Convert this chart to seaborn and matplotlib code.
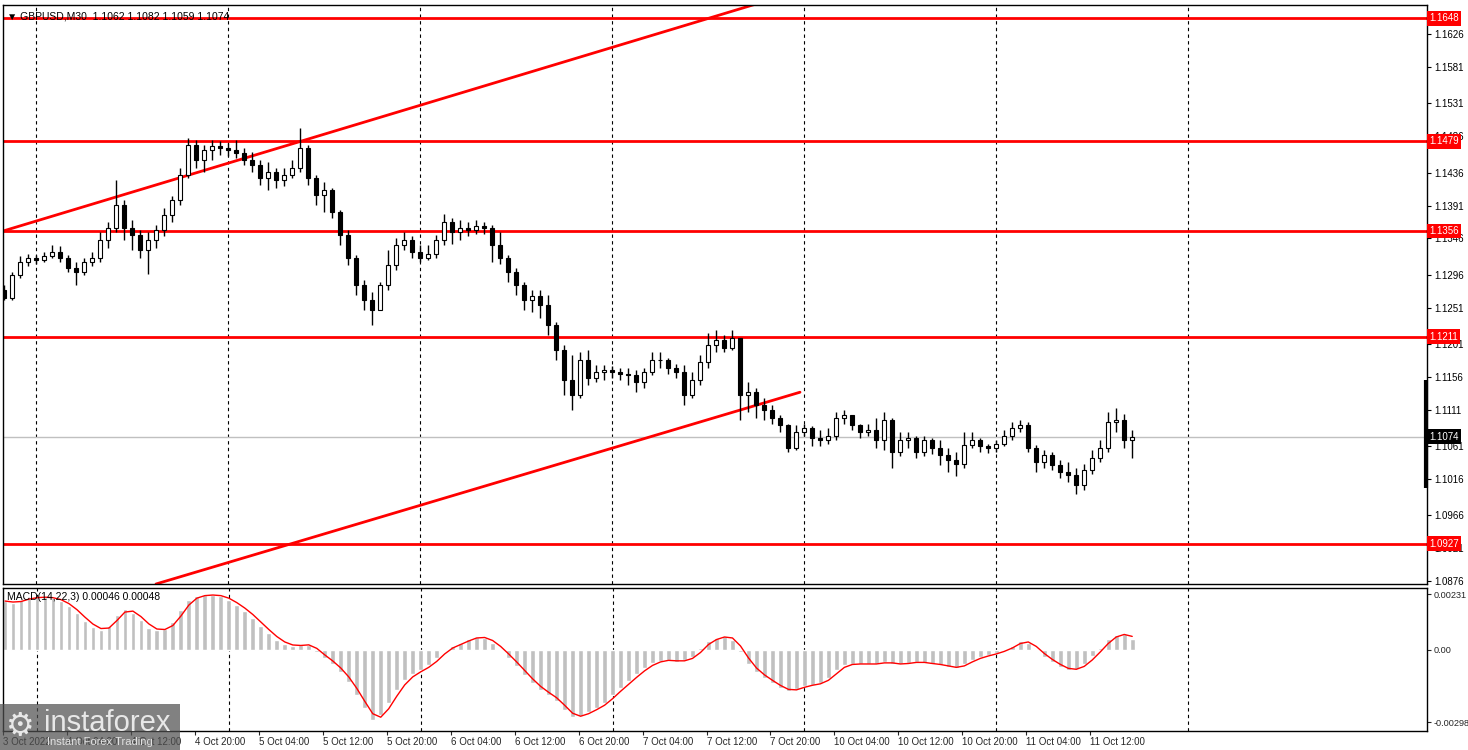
import numpy as np
import pandas as pd
import matplotlib
matplotlib.use("Agg")
import matplotlib.pyplot as plt
import matplotlib.transforms as mtransforms
from matplotlib.patches import Rectangle
import seaborn as sns

# --- data (one candle per hour of chart) ---
first_open = 1.1275
closes = [1.1264, 1.1296, 1.1314, 1.1319, 1.1316, 1.1322, 1.1327, 1.1319,
          1.1305, 1.1300, 1.1314, 1.1319, 1.1344, 1.1360, 1.1392, 1.1360,
          1.1351, 1.1330, 1.1344, 1.1357, 1.1378, 1.1399, 1.1433, 1.1474,
          1.1453, 1.1467, 1.1473, 1.1470, 1.1467, 1.1463, 1.1453, 1.1447,
          1.1429, 1.1437, 1.1426, 1.1433, 1.1442, 1.1470, 1.1429, 1.1405,
          1.1412, 1.1382, 1.1351, 1.1319, 1.1282, 1.1261, 1.1248, 1.1282,
          1.1309, 1.1337, 1.1344, 1.1327, 1.1319, 1.1325, 1.1344, 1.1368,
          1.1355, 1.1360, 1.1357, 1.1363, 1.1360, 1.1337, 1.1319, 1.1300,
          1.1282, 1.1261, 1.1267, 1.1255, 1.1227, 1.1193, 1.1152, 1.1131,
          1.1179, 1.1155, 1.1163, 1.1166, 1.1163, 1.1160, 1.1159, 1.1149,
          1.1163, 1.1179, 1.1179, 1.1168, 1.1163, 1.1131, 1.1152, 1.1177,
          1.1200, 1.1207, 1.1196, 1.1209, 1.1131, 1.1135, 1.1117, 1.1111,
          1.1100, 1.1090, 1.1059, 1.1081, 1.1086, 1.1072, 1.1070, 1.1075,
          1.1100, 1.1104, 1.1090, 1.1081, 1.1083, 1.1070, 1.1097, 1.1053,
          1.1070, 1.1072, 1.1053, 1.1070, 1.1059, 1.1049, 1.1042, 1.1037,
          1.1063, 1.1070, 1.1061, 1.1059, 1.1064, 1.1075, 1.1086, 1.1090,
          1.1059, 1.1039, 1.1049, 1.1035, 1.1026, 1.1022, 1.1008, 1.1028,
          1.1045, 1.1059, 1.1094, 1.1097, 1.1070, 1.1074]
highs = [1.1282, 1.1300, 1.1322, 1.1325, 1.1323, 1.1327, 1.1337, 1.1335,
         1.1323, 1.1314, 1.1319, 1.1327, 1.1355, 1.1368, 1.1426, 1.1399,
         1.1371, 1.1357, 1.1355, 1.1364, 1.1388, 1.1404, 1.1442, 1.1484,
         1.1481, 1.1474, 1.1481, 1.1479, 1.1477, 1.1481, 1.1470, 1.1464,
         1.1453, 1.1451, 1.1442, 1.1442, 1.1453, 1.1497, 1.1474, 1.1433,
         1.1423, 1.1415, 1.1385, 1.1357, 1.1323, 1.1289, 1.1273, 1.1286,
         1.1330, 1.1347, 1.1355, 1.1349, 1.1337, 1.1337, 1.1351, 1.1379,
         1.1374, 1.1371, 1.1368, 1.1371, 1.1368, 1.1364, 1.1355, 1.1323,
         1.1305, 1.1286, 1.1275, 1.1275, 1.1268, 1.1231, 1.1200, 1.1186,
         1.1190, 1.1193, 1.1172, 1.1172, 1.1171, 1.1168, 1.1168, 1.1166,
         1.1168, 1.1190, 1.1190, 1.1182, 1.1174, 1.1172, 1.1163, 1.1186,
         1.1216, 1.1220, 1.1213, 1.1220, 1.1209, 1.1149, 1.1141, 1.1127,
         1.1117, 1.1104, 1.1092, 1.1090, 1.1092, 1.1089, 1.1083, 1.1086,
         1.1108, 1.1111, 1.1100, 1.1092, 1.1092, 1.1100, 1.1108, 1.1100,
         1.1081, 1.1081, 1.1075, 1.1075, 1.1072, 1.1070, 1.1059, 1.1053,
         1.1081, 1.1081, 1.1072, 1.1064, 1.1070, 1.1083, 1.1094, 1.1097,
         1.1094, 1.1063, 1.1056, 1.1053, 1.1042, 1.1039, 1.1031, 1.1037,
         1.1056, 1.1070, 1.1108, 1.1113, 1.1105, 1.1083]
lows = [1.1261, 1.1261, 1.1292, 1.1308, 1.1311, 1.1314, 1.1319, 1.1314,
        1.1300, 1.1282, 1.1296, 1.1308, 1.1314, 1.1333, 1.1355, 1.1344,
        1.1330, 1.1319, 1.1297, 1.1333, 1.1349, 1.1368, 1.1392, 1.1429,
        1.1442, 1.1437, 1.1453, 1.1460, 1.1459, 1.1456, 1.1447, 1.1437,
        1.1419, 1.1412, 1.1415, 1.1418, 1.1429, 1.1437, 1.1419, 1.1392,
        1.1382, 1.1374, 1.1337, 1.1309, 1.1268, 1.1248, 1.1227, 1.1255,
        1.1275, 1.1303, 1.1330, 1.1319, 1.1314, 1.1316, 1.1319, 1.1337,
        1.1338, 1.1344, 1.1349, 1.1352, 1.1352, 1.1314, 1.1311, 1.1286,
        1.1268, 1.1248, 1.1245, 1.1237, 1.1213, 1.1179, 1.1131, 1.1111,
        1.1127, 1.1145, 1.1149, 1.1152, 1.1155, 1.1152, 1.1145, 1.1135,
        1.1141, 1.1158, 1.1168, 1.1160, 1.1155, 1.1117, 1.1127, 1.1145,
        1.1168, 1.1190, 1.1190, 1.1193, 1.1097, 1.1108, 1.1100, 1.1097,
        1.1092, 1.1081, 1.1053, 1.1056, 1.1075, 1.1061, 1.1061, 1.1064,
        1.1070, 1.1092, 1.1083, 1.1072, 1.1075, 1.1059, 1.1056, 1.1031,
        1.1048, 1.1059, 1.1045, 1.1048, 1.1050, 1.1035, 1.1026, 1.1020,
        1.1031, 1.1059, 1.1053, 1.1052, 1.1053, 1.1061, 1.1070, 1.1081,
        1.1053, 1.1026, 1.1031, 1.1028, 1.1018, 1.1012, 1.0996, 1.1001,
        1.1023, 1.1039, 1.1053, 1.1081, 1.1059, 1.1045]
macd = [0.00202, 0.00194, 0.00206, 0.00214, 0.00218, 0.00218, 0.00214, 0.00202,
        0.00181, 0.00152, 0.00119, 0.00095, 0.00082, 0.00099, 0.00144, 0.00169,
        0.00152, 0.00124, 0.00091, 0.00082, 0.00087, 0.00115, 0.00165, 0.00206,
        0.00222, 0.00227, 0.00227, 0.00222, 0.00206, 0.00185, 0.00161, 0.00132,
        0.00099, 0.00070, 0.00041, 0.00025, 0.00016, 0.00021, 0.00021, -0.00008,
        -0.00033, -0.00058, -0.00091, -0.00132, -0.00185, -0.00239, -0.00288, -0.00268,
        -0.00218, -0.00165, -0.00124, -0.00099, -0.00082, -0.00062, -0.00033, 0.00000,
        0.00016, 0.00029, 0.00045, 0.00054, 0.00049, 0.00029, 0.00000, -0.00033,
        -0.00066, -0.00103, -0.00136, -0.00165, -0.00185, -0.00210, -0.00247, -0.00276,
        -0.00272, -0.00255, -0.00239, -0.00218, -0.00185, -0.00157, -0.00128, -0.00099,
        -0.00074, -0.00054, -0.00045, -0.00041, -0.00049, -0.00041, -0.00029, 0.00008,
        0.00037, 0.00049, 0.00058, 0.00041, -0.00008, -0.00058, -0.00091, -0.00115,
        -0.00136, -0.00157, -0.00169, -0.00161, -0.00148, -0.00144, -0.00136, -0.00115,
        -0.00082, -0.00062, -0.00058, -0.00058, -0.00058, -0.00058, -0.00049, -0.00058,
        -0.00058, -0.00054, -0.00049, -0.00054, -0.00058, -0.00062, -0.00070, -0.00074,
        -0.00058, -0.00041, -0.00029, -0.00021, -0.00012, 0.00000, 0.00016, 0.00037,
        0.00029, 0.00000, -0.00029, -0.00049, -0.00070, -0.00082, -0.00078, -0.00058,
        -0.00025, 0.00008, 0.00045, 0.00062, 0.00066, 0.00046]

levels = [1.1648, 1.1479, 1.1356, 1.1211, 1.0927]
last_price = 1.1074
price_ticks = [1.1626, 1.1581, 1.1531, 1.1486, 1.1436, 1.1391, 1.1346, 1.1296,
               1.1251, 1.1201, 1.1156, 1.1111, 1.1061, 1.1016, 1.0966, 1.0921, 1.0876]
macd_ticks = [0.00231, 0.0, -0.00298]
macd_tick_labels = ["0.00231", "0.00", "-0.00298"]
time_labels = ["3 Oct 2022", "4 Oct 04:00", "4 Oct 12:00", "4 Oct 20:00", "5 Oct 04:00",
               "5 Oct 12:00", "5 Oct 20:00", "6 Oct 04:00", "6 Oct 12:00", "6 Oct 20:00",
               "7 Oct 04:00", "7 Oct 12:00", "7 Oct 20:00", "10 Oct 04:00", "10 Oct 12:00",
               "10 Oct 20:00", "11 Oct 04:00", "11 Oct 12:00"]
# trend lines: (bar, price) pairs
upper_trend = ([-0.125, 94.5], [1.1356, 1.1669])
lower_trend = ([19.0, 99.5], [1.0872, 1.1135])
side_bar = [1.1152, 1.1003]

df = pd.DataFrame({"close": closes, "high": highs, "low": lows, "macd": macd})
df["open"] = [first_open] + closes[:-1]
df["bar"] = np.arange(len(df))
df["signal"] = df["macd"].rolling(2, min_periods=1).mean()

sns.set_style("white")
plt.rcParams["font.family"] = ["Liberation Sans", "DejaVu Sans"]
FS = 7

W, H = 1468, 750
fig = plt.figure(figsize=(W / 100, H / 100), dpi=100)
ax = fig.add_axes([3 / W, 1 - 584 / H, 1424 / W, 579 / H])
ax2 = fig.add_axes([3 / W, 1 - 731 / H, 1424 / W, 143 / H])

xlim = (-0.125, 177.875)
for a in (ax, ax2):
    a.set_xlim(*xlim)
    for s in a.spines.values():
        s.set_color("black")
        s.set_linewidth(1)
    for gx in np.arange(4, 170, 24):
        a.axvline(gx, color="black", ls=(0, (3, 3)), lw=0.8, zorder=0)

ax.set_ylim(1.0872, 1.1666)

# candles
bull = df["close"] >= df["open"]
ax.vlines(df["bar"], df["low"], df["high"], color="black", lw=1, zorder=3)
ax.bar(df["bar"], (df["close"] - df["open"]).abs().clip(lower=0.00004),
       bottom=df[["open", "close"]].min(axis=1), width=0.5,
       color=np.where(bull, "white", "black"), edgecolor="black", lw=0.8, zorder=4)

# horizontal levels and trend lines
for lv in levels:
    ax.axhline(lv, color="#ff0000", lw=2, zorder=2)
ax.axhline(last_price, color="#c0c0c0", lw=1, zorder=1)
sns.lineplot(x=upper_trend[0], y=upper_trend[1], ax=ax, color="#ff0000", lw=2, zorder=2)
sns.lineplot(x=lower_trend[0], y=lower_trend[1], ax=ax, color="#ff0000", lw=2, zorder=2)
ax.plot([xlim[1] - 0.15] * 2, side_bar, color="black", lw=3, solid_capstyle="butt",
        clip_on=False, zorder=5)

ax.yaxis.tick_right()
ax.set_yticks(price_ticks)
ax.set_yticklabels([f"{p:.4f}" for p in price_ticks])
ax.tick_params(axis="y", direction="out", length=3, width=0.8, labelsize=FS, pad=2,
               colors="black", right=True)
ax.set_xticks([])

trans = mtransforms.blended_transform_factory(ax.transAxes, ax.transData)
for lv in levels:
    ax.text(1.0015, lv, f"{lv:.4f}", transform=trans, fontsize=FS, color="white",
            va="center", ha="left", zorder=6,
            bbox=dict(boxstyle="square,pad=0.25", fc="#ff0000", ec="none"))
ax.text(1.0015, last_price, f"{last_price:.4f}", transform=trans, fontsize=FS, color="white",
        va="center", ha="left", zorder=6,
        bbox=dict(boxstyle="square,pad=0.25", fc="black", ec="none"))

ax.text(0.003, 0.988, "\u25bc GBPUSD,M30  1.1062 1.1082 1.1059 1.1074", transform=ax.transAxes,
        fontsize=7.5, va="top", ha="left", color="black")

# MACD panel
ax2.set_ylim(-0.00335, 0.00256)
ax2.bar(df["bar"], df["macd"], width=0.6, color="#c0c0c0", zorder=1)
sns.lineplot(x=df["bar"], y=df["signal"], ax=ax2, color="#ff0000", lw=1, zorder=3)
ax2.set_xlabel("")
ax2.set_ylabel("")
ax2.yaxis.tick_right()
ax2.set_yticks(macd_ticks)
ax2.set_yticklabels(macd_tick_labels)
ax2.tick_params(axis="y", direction="out", length=3, width=0.8, labelsize=6.6, pad=2, right=True)
ax2.text(0.003, 0.97, "MACD(14,22,3) 0.00046 0.00048", transform=ax2.transAxes,
         fontsize=7.5, va="top", ha="left", color="black")

tick_pos = [-0.25 + 8 * i for i in range(len(time_labels))]
ax2.set_xticks(tick_pos)
ax2.set_xticklabels(time_labels)
for tl in ax2.get_xticklabels():
    tl.set_ha("left")
ax2.tick_params(axis="x", direction="out", length=3, width=0.8, labelsize=FS, pad=1, bottom=True)

# watermark
fig.patches.append(Rectangle((0, 0), 180 / W, 46 / H, transform=fig.transFigure,
                             facecolor="#505050", alpha=0.72, edgecolor="none", zorder=10))
fig.text(6 / W, 24 / H, "\u2699", fontsize=23, color="#e8e8e8", va="center", ha="left", zorder=11,
         family=["DejaVu Sans"])
fig.text(44 / W, 27 / H, "instaforex", fontsize=21, color="#e8e8e8", va="center", ha="left", zorder=11)
fig.text(47 / W, 8 / H, "Instant Forex Trading", fontsize=8, color="#e0e0e0", va="center",
         ha="left", zorder=11)

fig.savefig("out.png", dpi=100)
